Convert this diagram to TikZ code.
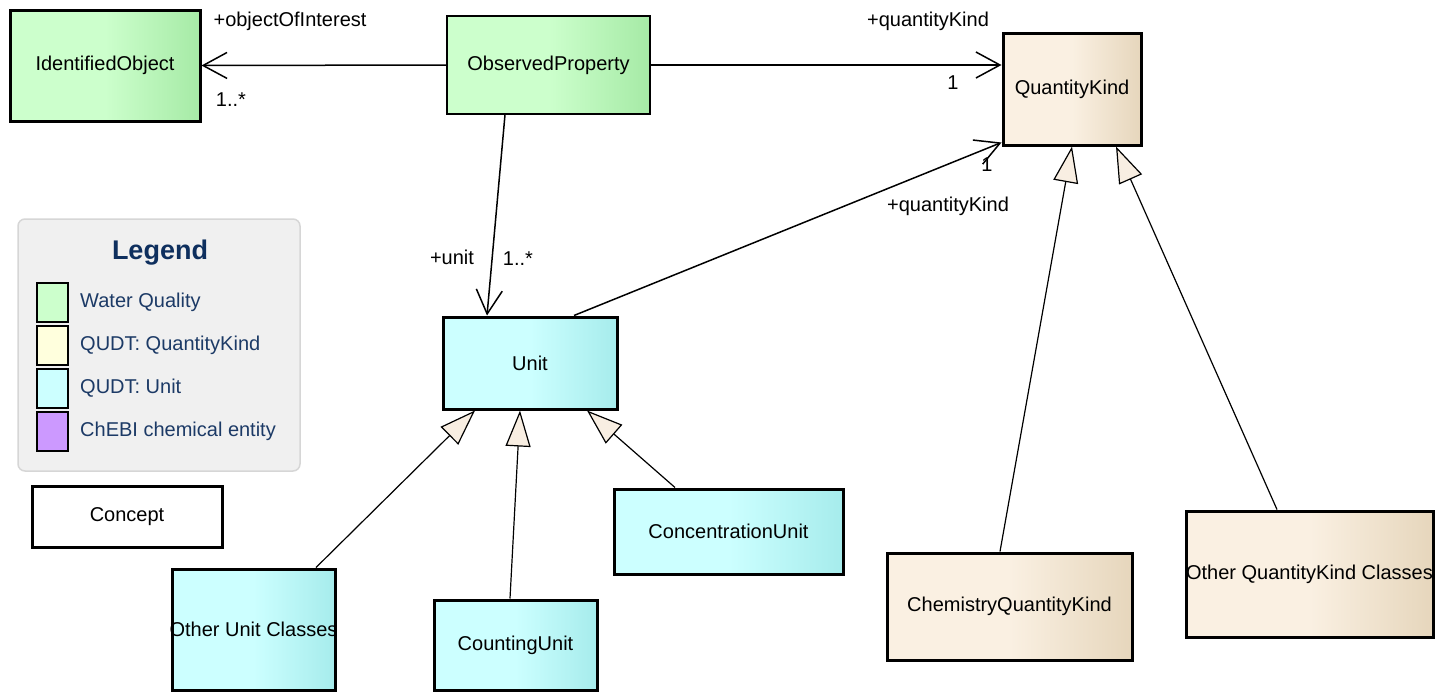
\documentclass[tikz,border=0pt]{standalone}
\usepackage{fontspec}
\setmainfont{Liberation Sans}
\usetikzlibrary{arrows.meta}
\definecolor{wqlight}{HTML}{CCFFCC}
\definecolor{wqdark}{HTML}{A6EAA6}
\definecolor{unitlight}{HTML}{CCFFFF}
\definecolor{unitdark}{HTML}{A6ECEC}
\definecolor{qklight}{HTML}{FAF0E2}
\definecolor{qkdark}{HTML}{E6D6BC}
\definecolor{legendbg}{HTML}{F0F0F0}
\definecolor{legendline}{HTML}{D6D6D6}
\definecolor{legendtext}{HTML}{1C3A66}
\definecolor{legendtitle}{HTML}{0E2F5E}
\definecolor{swqk}{HTML}{FFFFDD}
\definecolor{swchebi}{HTML}{CC99FF}
\definecolor{genfill}{HTML}{F8EEE2}
\begin{document}
\begin{tikzpicture}[x=1pt,y=-1pt,
  every node/.style={font=\fontsize{20}{24}\selectfont},
  cls/.style={draw, line width=3pt, inner sep=0pt},
  wq/.style={cls, left color=wqlight, right color=wqdark, middle color=wqlight},
  un/.style={cls, left color=unitlight, right color=unitdark, middle color=unitlight},
  qk/.style={cls, left color=qklight, right color=qkdark, middle color=qklight},
  assoc/.style={line width=1.5pt, -{Straight Barb[length=24pt, width=26pt]}},
  gen/.style={line width=1.2pt, -{Triangle[length=36pt, width=25pt, fill=genfill]}},
  swatch/.style={draw, line width=1.5pt, minimum width=31pt, minimum height=39pt, inner sep=0pt}]
\useasboundingbox (0,0) rectangle (1435,691);
% classes
\node[wq, minimum width=190pt, minimum height=111pt] (idobj) at (105,65.5) {IdentifiedObject};
\node[wq, line width=1.5pt, minimum width=203pt, minimum height=98pt] (obsprop) at (548.5,65) {ObservedProperty};
\node[qk, minimum width=138pt, minimum height=112pt] (qkind) at (1072,89) {QuantityKind};
\node[un, minimum width=174pt, minimum height=92pt] (unit) at (530,363) {Unit};
\node[un, minimum width=163pt, minimum height=121pt] (otherunit) at (253.5,629.5) {\makebox[0pt]{Other Unit Classes}};
\node[un, minimum width=163pt, minimum height=90pt] (countunit) at (515.5,645) {CountingUnit};
\node[un, minimum width=229pt, minimum height=85pt] (concunit) at (728.5,531.5) {ConcentrationUnit};
\node[qk, minimum width=245pt, minimum height=107pt] (chemqk) at (1009.5,606.5) {ChemistryQuantityKind};
\node[qk, minimum width=247pt, minimum height=126pt] (otherqk) at (1309.5,574) {\makebox[0pt]{Other QuantityKind Classes}};
\node[cls, fill=white, minimum width=190pt, minimum height=61pt] (concept) at (127,516.5) {Concept};

% legend
\draw[legendline, fill=legendbg, line width=1.5pt, rounded corners=7pt] (18,219) rectangle (300,471);
\node[text=legendtitle, font=\fontsize{27}{31}\selectfont\bfseries] (legend) at (160,253) {Legend};
\foreach \c/\t [count=\i] in {wqlight/Water Quality, swqk/QUDT: QuantityKind, unitlight/QUDT: Unit, swchebi/ChEBI chemical entity}{
  \node[swatch, fill=\c] (sw\i) at (52.5,259.5+43*\i) {};
  \node[text=legendtext, anchor=west, inner sep=0pt] (lt\i) at (80,259.5+43*\i) {\t};
}

% associations
\draw[assoc] (obsprop.west) -- (idobj.east);
\draw[assoc] (obsprop.east) -- (obsprop.east -| qkind.west);
\draw[assoc] ([xshift=-43.5pt]obsprop.south) -- ([xshift=-43pt]unit.north);
\draw[assoc] ([xshift=44pt]unit.north) -- ([yshift=4pt]qkind.south west);
\node (ooi) at (290,21) {+objectOfInterest};
\node (ooim) at (231,100) {1..*};
\node (qkr) at (928,21) {+quantityKind};
\node (qkrm) at (953,83) {1};
\node (unr) at (452,257) {+unit};
\node (unrm) at (518,259) {1..*};
\node (qkum) at (987,165) {1};
\node (qku) at (948,206) {+quantityKind};

% generalizations
\draw[gen] ([xshift=62.5pt]otherunit.north) -- ([xshift=-55pt]unit.south);
\draw[gen] ([xshift=-5.5pt]countunit.north) -- ([xshift=-10pt]unit.south);
\draw[gen] ([xshift=-53.5pt]concunit.north) -- ([xshift=57pt]unit.south);
\draw[gen] ([xshift=-9.5pt]chemqk.north) -- (qkind.south);
\draw[gen] ([xshift=-32.5pt]otherqk.north) -- ([xshift=44pt]qkind.south);
\end{tikzpicture}
\end{document}
